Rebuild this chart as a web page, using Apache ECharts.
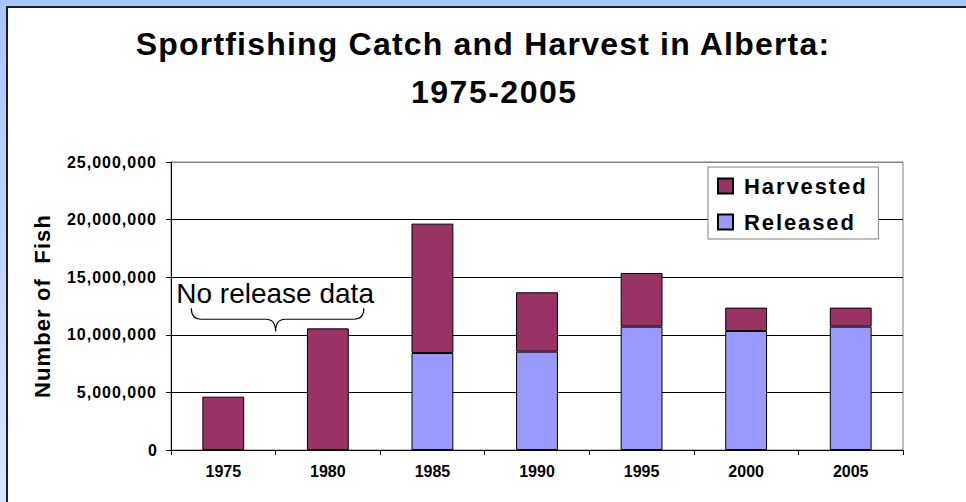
<!DOCTYPE html>
<html><head><meta charset="utf-8">
<script src="https://cdn.jsdelivr.net/npm/echarts@6/dist/echarts.min.js"></script>
<style>html,body{margin:0;padding:0;width:966px;height:502px;overflow:hidden;background:#fff}#c{width:966px;height:502px}</style>
</head><body><div id="c"></div>
<script>
const years = ['1975', '1980', '1985', '1990', '1995', '2000', '2005'];
const released = [null, null, 8420000, 8540000, 10710000, 10330000, 10710000];
const harvested = [4630000, 10560000, 11230000, 5150000, 4650000, 2030000, 1650000];
const yMin = 0, yMax = 25000000, yInterval = 5000000;
const titleLines = ['Sportfishing Catch and Harvest in Alberta:', '1975-2005'];
const yAxisName = 'Number of  Fish';
const noteText = 'No release data';
const colors = { Released: '#9999FF', Harvested: '#993366' };

const FONT = "'Liberation Sans', Arial, sans-serif";
const chart = echarts.init(document.getElementById('c'), null, { renderer: 'svg' });

function fmt(v) { return Number(v).toLocaleString('en-US'); }
const titleStyle = { fontFamily: FONT, fontWeight: 'bold', fontSize: 32, lineHeight: 48, color: '#000' };

const option = {
  animation: false,
  backgroundColor: { type: 'linear', x: 0, y: 0, x2: 0, y2: 1,
    colorStops: [{ offset: 0, color: '#A8C6FF' }, { offset: 1, color: '#D8E5FF' }] },
  graphic: [{
    id: 'panel', type: 'rect', z: -10,
    shape: { x: 7, y: 7, width: 1000, height: 600 },
    style: { fill: '#fff', stroke: '#1c1c30', lineWidth: 2 }
  }],
  title: [
    { text: titleLines[0], left: 'center', top: 20, padding: 0, textStyle: titleStyle },
    { text: titleLines[1], left: 411, top: 68, padding: 0, textStyle: titleStyle }
  ],
  legend: {
    data: ['Harvested', 'Released'], orient: 'vertical', left: 708, top: 167,
    backgroundColor: '#fff', borderColor: '#808080', borderWidth: 1,
    padding: [8, 28, 6, 9], itemWidth: 15, itemHeight: 15, itemGap: 14, icon: 'rect',
    selectedMode: false,
    textStyle: { fontFamily: FONT, fontWeight: 'bold', fontSize: 22, color: '#000', padding: [0, 0, 0, 6] }
  },
  grid: { left: 171, right: 63, top: 162, bottom: 52, show: true, borderColor: '#808080', borderWidth: 1, backgroundColor: 'transparent' },
  xAxis: {
    type: 'category', data: years,
    axisLine: { lineStyle: { color: '#000', width: 1 } },
    axisTick: { show: true, length: 5, lineStyle: { color: '#000' } },
    axisLabel: { fontFamily: FONT, fontWeight: 'bold', fontSize: 16, color: '#000', margin: 13 }
  },
  yAxis: {
    type: 'value', min: yMin, max: yMax, interval: yInterval,
    name: yAxisName, nameLocation: 'middle', nameGap: 118,
    nameTextStyle: { fontFamily: FONT, fontWeight: 'bold', fontSize: 22, color: '#000' },
    axisLine: { show: true, lineStyle: { color: '#000', width: 1 } },
    axisTick: { show: true, length: 5, lineStyle: { color: '#000' } },
    axisLabel: { fontFamily: FONT, fontWeight: 'bold', fontSize: 16, color: '#000', margin: 14, formatter: fmt },
    splitLine: { show: true, lineStyle: { color: ['#000', '#000', '#000', '#000', '#000', '#808080'], width: 1 } }
  },
  series: [
    { name: 'Released', type: 'bar', stack: 'total', data: released, barWidth: '40%',
      itemStyle: { color: colors.Released, borderColor: '#000', borderWidth: 1 } },
    { name: 'Harvested', type: 'bar', stack: 'total', data: harvested, barWidth: '40%',
      itemStyle: { color: colors.Harvested, borderColor: '#000', borderWidth: 1 } }
  ]
};
chart.setOption(option);

function addNote() {
  const c0 = chart.convertToPixel({ xAxisIndex: 0, yAxisIndex: 0 }, [0, 0]);
  const c1 = chart.convertToPixel({ xAxisIndex: 0, yAxisIndex: 0 }, [1, 0]);
  const y = v => chart.convertToPixel({ yAxisIndex: 0 }, v);
  const x0 = c0[0] - 32, x1 = c1[0] + 36, xm = (c0[0] + c1[0]) / 2;
  const yE = y(12300000), yF = y(11350000), yT = y(10300000);
  const r = 10;
  const st = { stroke: '#000', fill: null, lineWidth: 1.2 };
  const curve = (id, ax, ay, bx, by, cx, cy) => ({ id, type: 'bezierCurve', z: 10, silent: true,
    shape: { x1: ax, y1: ay, x2: bx, y2: by, cpx1: cx, cpy1: cy }, style: st });
  const line = (id, ax, ay, bx, by) => ({ id, type: 'line', z: 10, silent: true,
    shape: { x1: ax, y1: ay, x2: bx, y2: by }, style: st });
  chart.setOption({ graphic: [
    curve('b1', x0, yE, x0 + r, yF, x0, yF),
    line('b2', x0 + r, yF, xm - r, yF),
    curve('b3', xm - r, yF, xm, yT, xm, yF),
    curve('b4', xm, yT, xm + r, yF, xm, yF),
    line('b5', xm + r, yF, x1 - r, yF),
    curve('b6', x1 - r, yF, x1, yE, x1, yF),
    { id: 'note', type: 'text', z: 10, x: c0[0] - 47, y: y(13600000),
      style: { text: noteText, fontFamily: FONT, fontSize: 28, fill: '#000', textVerticalAlign: 'middle', textAlign: 'left' } }
  ] });
}
try { addNote(); } catch (e) { console.log(e); }

function applySpacing() {
  document.querySelectorAll('#c text').forEach(t => {
    const s = t.textContent;
    let ls = null;
    if (s === titleLines[0]) ls = '1.2px';
    else if (s === titleLines[1]) ls = '1.5px';
    else if (s === 'Harvested' || s === 'Released') ls = '1.9px';
    else if (/^\d{1,3}(,\d{3})+$/.test(s)) ls = '1px';
    else if (s === yAxisName) ls = '1.1px';
    if (ls) t.setAttribute('letter-spacing', ls);
  });
}
chart.on('finished', applySpacing);
applySpacing();
setTimeout(applySpacing, 50);
</script>
</body></html>
